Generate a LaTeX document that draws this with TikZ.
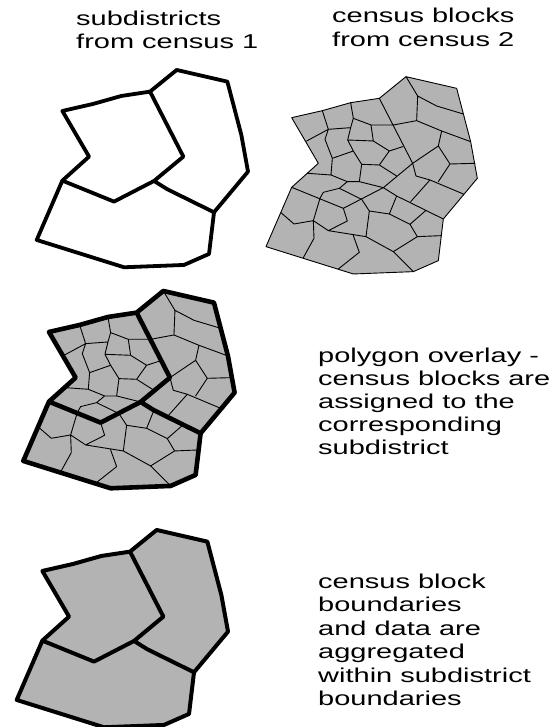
\documentclass[tikz,border=0pt]{standalone}
\usepackage{fontspec}
\setmainfont{Liberation Sans}[FakeStretch=1.45]
\definecolor{blockgray}{HTML}{B3B3B3}
\tikzset{
  x=1pt,y=-1pt,
  thin net/.style={line width=0.9pt,line join=round,line cap=round},
  thick net/.style={line join=round,line cap=round},
  label text/.style={font=\fontsize{20}{23.5}\selectfont,align=left,anchor=north west,inner sep=0pt},
}
% all shapes are given in units of 1/3 px relative to the census-block panel
\newcommand{\outerpath}{(95,143) -- (187,122) -- (272,98) -- (358,85) -- (438,20) -- (590,55) -- (632,215) -- (652,325) -- (550,447) -- (535,572) -- (460,605) -- (280,612) -- (18,530) -- (95,352) -- (175,280) -- cycle}
\newcommand{\dividers}{(358,85) -- (458,280) -- (370,353) -- (250,415) -- (95,352) (370,353) -- (410,378) -- (550,447)}
\newcommand{\blocklines}{
  (187,122) -- (205,178) -- (140,213)
  (205,178) -- (272,173) -- (280,145) -- (272,98)
  (280,145) -- (333,165) -- (400,165) -- (470,152) -- (473,78) -- (438,20)
  (473,78) -- (530,108) -- (610,132)
  (470,152) -- (545,183) -- (632,215)
  (545,183) -- (535,228) -- (458,280)
  (535,228) -- (570,282) -- (645,280)
  (570,282) -- (535,335)
  (458,280) -- (468,318) -- (510,330) -- (610,372)
  (510,330) -- (452,395)
  (205,178) -- (195,208) -- (217,265) -- (213,315)
  (217,265) -- (280,243) -- (263,210) -- (272,173)
  (263,210) -- (340,213) -- (333,165)
  (340,213) -- (388,243) -- (358,285) -- (305,283) -- (280,243)
  (388,243) -- (428,230)
  (358,285) -- (410,318)
  (305,283) -- (298,335)
  (143,310) -- (213,315) -- (262,335) -- (298,335) -- (370,353)
  (262,335) -- (238,355) -- (190,367) -- (180,385) -- (160,452) -- (205,482) -- (262,453) -- (250,415)
  (238,355) -- (305,388) -- (328,423) -- (318,500)
  (328,423) -- (388,432) -- (450,463) -- (472,500) -- (400,545)
  (410,378) -- (388,432)
  (450,463) -- (497,422)
  (472,500) -- (543,497)
  (205,482) -- (318,500) -- (400,545) -- (460,605)
  (160,452) -- (162,505) -- (130,563)
  (160,452) -- (102,462) -- (63,428)
  (280,497) -- (298,547) -- (235,597)
}
\begin{document}
\begin{tikzpicture}
\useasboundingbox (0,0) rectangle (555,727);
% headings
\node[label text] (h1) at (76,10.5) {subdistricts\\from census 1};
\node[label text] (h2) at (332,8.2) {census blocks\\from census 2};
\node[label text,font=\fontsize{20}{23}\selectfont] (t1) at (318,348) {polygon overlay -\\census blocks are\\assigned to the\\corresponding\\subdistrict};
\node[label text] (t2) at (318,573.5) {census block\\boundaries\\and data are\\aggregated\\within subdistrict\\boundaries};
% top left: subdistricts
\begin{scope}[shift={(30.7,63.3)},x=0.3333pt,y=-0.3333pt]
  \draw[thick net,line width=3.8pt] \outerpath \dividers;
\end{scope}
% top right: census blocks
\begin{scope}[shift={(260,70)},x=0.3333pt,y=-0.3333pt]
  \fill[blockgray] \outerpath;
  \draw[thin net] \outerpath \dividers \blocklines;
\end{scope}
% middle: overlay
\begin{scope}[shift={(17.3,284.3)},x=0.3333pt,y=-0.3333pt]
  \fill[blockgray] \outerpath;
  \draw[thin net] \blocklines;
  \draw[thick net,line width=4.6pt] \outerpath \dividers;
\end{scope}
% bottom: aggregated
\begin{scope}[shift={(10.7,523.3)},x=0.3333pt,y=-0.3333pt]
  \fill[blockgray] \outerpath;
  \draw[thick net,line width=4pt] \outerpath \dividers;
\end{scope}
\end{tikzpicture}
\end{document}
